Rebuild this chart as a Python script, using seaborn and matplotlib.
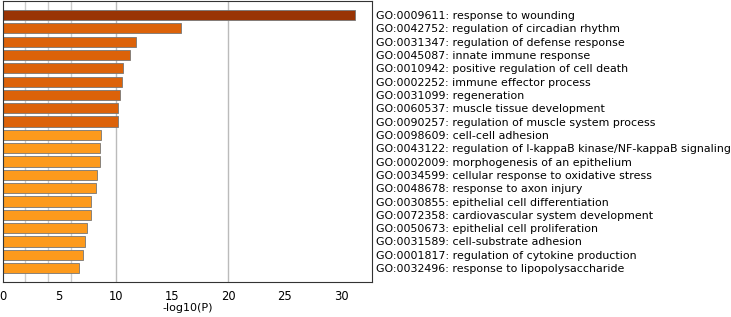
import pandas as pd
import seaborn as sns
import matplotlib.pyplot as plt

sns.set_style("white")
plt.rcParams['font.family'] = 'DejaVu Sans'

terms = [
    "GO:0009611: response to wounding",
    "GO:0042752: regulation of circadian rhythm",
    "GO:0031347: regulation of defense response",
    "GO:0045087: innate immune response",
    "GO:0010942: positive regulation of cell death",
    "GO:0002252: immune effector process",
    "GO:0031099: regeneration",
    "GO:0060537: muscle tissue development",
    "GO:0090257: regulation of muscle system process",
    "GO:0098609: cell-cell adhesion",
    "GO:0043122: regulation of I-kappaB kinase/NF-kappaB signaling",
    "GO:0002009: morphogenesis of an epithelium",
    "GO:0034599: cellular response to oxidative stress",
    "GO:0048678: response to axon injury",
    "GO:0030855: epithelial cell differentiation",
    "GO:0072358: cardiovascular system development",
    "GO:0050673: epithelial cell proliferation",
    "GO:0031589: cell-substrate adhesion",
    "GO:0001817: regulation of cytokine production",
    "GO:0032496: response to lipopolysaccharide",
]
log_p = [31.2, 15.8, 11.85, 11.3, 10.67, 10.6, 10.37, 10.22, 10.19, 8.74,
         8.65, 8.59, 8.33, 8.24, 7.85, 7.85, 7.5, 7.26, 7.14, 6.78]
tier = ["a"] + ["b"] * 8 + ["c"] * 11

palette = {"a": "#993404", "b": "#dc6209", "c": "#fd9a1c"}

df = pd.DataFrame({"term": terms, "logp": log_p, "tier": tier})

fig, ax = plt.subplots(figsize=(7.31, 3.17), dpi=100)
fig.subplots_adjust(left=0.004, right=0.509, top=0.997, bottom=0.11)

# reference lines behind the bars
for x, c in [(2, "#cccccc"), (4, "#cccccc"), (6, "#cccccc"), (10, "#bbbbbb"), (20, "#bbbbbb")]:
    ax.axvline(x, color=c, linewidth=1, zorder=0)

sns.barplot(data=df, x="logp", y="term", hue="tier", palette=palette,
            dodge=False, legend=False, width=0.76, saturation=1,
            edgecolor="#777777", linewidth=0.6, ax=ax, zorder=2)

ax.set_xlim(0, max(log_p) * 1.05)
ax.set_ylim(len(terms) + 0.05, -1.05)
ax.yaxis.tick_right()
ax.tick_params(axis="y", length=0, labelsize=7.9, pad=3, labelcolor="black")
ax.tick_params(axis="x", length=3, labelsize=8.3, pad=2.5, labelcolor="black")
ax.set_xticks([0, 5, 10, 15, 20, 25, 30])
ax.set_ylabel("")
ax.set_xlabel("-log10(P)", fontsize=8, labelpad=0.5, color="black")
for s in ax.spines.values():
    s.set_color("#333333")
    s.set_linewidth(0.8)

fig.savefig("out.png", dpi=100)
